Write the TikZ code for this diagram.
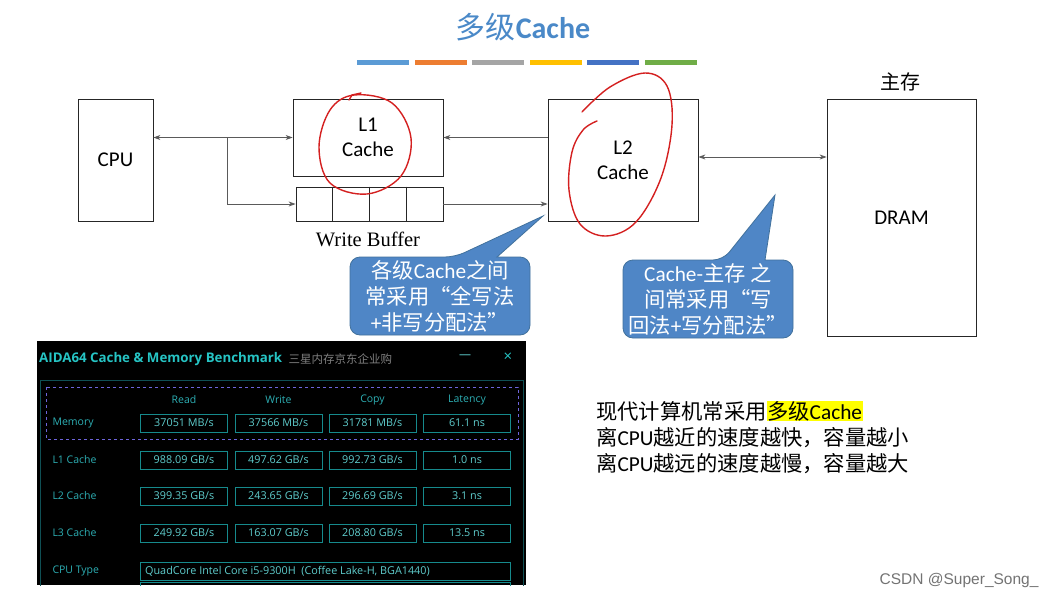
\documentclass[tikz,border=0pt]{standalone}
\usepackage{fontspec}
\setmainfont{Carlito}
\newfontfamily\cjk{Noto Sans CJK SC}
\newfontfamily\serifw{Liberation Serif}
\newfontfamily\ui{Open Sans}
\newfontfamily\wm{Liberation Sans}
\usetikzlibrary{arrows.meta,calc}
\newcommand\la[1]{{\rmfamily #1}}
\definecolor{titleblue}{RGB}{74,137,200}
\definecolor{barA}{RGB}{91,155,213}
\definecolor{barB}{RGB}{237,125,49}
\definecolor{barC}{RGB}{165,165,165}
\definecolor{barD}{RGB}{255,192,0}
\definecolor{barE}{RGB}{68,114,196}
\definecolor{barF}{RGB}{112,173,71}
\definecolor{callfill}{RGB}{79,134,198}
\definecolor{callline}{RGB}{65,113,156}
\definecolor{inkred}{RGB}{212,32,32}
\definecolor{linegray}{RGB}{90,90,90}
\definecolor{aidateal}{RGB}{38,196,196}
\definecolor{aidalabel}{RGB}{45,175,180}
\definecolor{aidaval}{RGB}{95,205,205}
\definecolor{aidabox}{RGB}{22,138,140}
\definecolor{aidaframe}{RGB}{15,80,85}
\definecolor{dashblue}{RGB}{110,100,220}
\definecolor{hl}{RGB}{255,255,0}
\tikzset{
  box/.style={draw=black!85, line width=0.8pt, fill=white, font=\fontsize{21}{25}\selectfont, align=center},
  conn/.style={draw=linegray, line width=0.8pt},
  tip/.style={-{Stealth[length=7pt,width=5pt]}},
  dtip/.style={{Stealth[length=7pt,width=5pt]}-{Stealth[length=7pt,width=5pt]}},
  ink/.style={draw=inkred, line width=1.4pt, line cap=round},
  callout/.style={fill=callfill, draw=callline, line width=0.8pt},
  calltext/.style={text=white, align=center, font=\cjk\fontsize{21.3}{26}\selectfont},
  alabel/.style={anchor=west, text=aidalabel, font=\ui\fontsize{10.5}{12}\selectfont},
  ahead/.style={text=aidalabel, font=\ui\fontsize{10.5}{12}\selectfont},
  valbox/.style={draw=aidabox, line width=0.8pt, minimum width=87pt, minimum height=18pt, inner sep=0pt, text=aidaval, font=\ui\fontsize{10.8}{12}\selectfont},
}
\begin{document}
\begin{tikzpicture}[x=1pt,y=-1pt]
\useasboundingbox (0,0) rectangle (1055,600);
\fill[white] (0,0) rectangle (1055,600);

% title and colour bars
\node[text=titleblue, font=\fontsize{30}{36}\selectfont] (title) at (523,27) {{\cjk 多级}\textbf{Cache}};
\foreach \x/\c in {357/barA,415/barB,472/barC,530/barD,587/barE,645/barF}
  \fill[\c] (\x,60) rectangle ++(52,5);

% boxes
\node[box, minimum width=75pt, minimum height=122pt] (cpu) at (115.5,160) {CPU};
\node[box, minimum width=150pt, minimum height=77pt] (l1) at (368,137.5) {L1\\Cache};
\node[box, minimum width=147pt, minimum height=34pt] (wb) at (369.5,204) {};
\foreach \f in {0.25,0.5,0.75}
  \draw[black!85, line width=0.8pt] ($(wb.north west)!\f!(wb.north east)$) -- ($(wb.south west)!\f!(wb.south east)$);
\node[font=\serifw\fontsize{20.5}{24}\selectfont] (wblabel) at (368,239) {Write Buffer};
\node[box, minimum width=150pt, minimum height=122pt] (l2) at (623,160) {L2\\Cache};
\node[box, minimum width=149pt, minimum height=237pt, text depth=0pt] (dram) at (901.5,217.5) {DRAM};
\node[font=\cjk\fontsize{20}{24}\selectfont] (mainmem) at (900,82) {主存};

% connectors
\coordinate (br) at (227,137.5);
\draw[conn, dtip] (cpu.east |- l1.west) -- (l1.west);
\draw[conn, tip] (br) |- (wb.west);
\draw[conn, tip] (l2.west |- l1.east) -- (l1.east);
\draw[conn, tip] (wb.east) -- (wb.east -| l2.west);
\draw[conn, dtip] (l2.east |- 0,157) -- (dram.west |- 0,157);

% red hand-drawn circles
\draw[ink] plot[smooth cycle, tension=0.6] coordinates {(354,95) (392,103) (411,138) (401,176) (367,194) (330,183) (319,147) (330,110)};
\draw[ink] (349,100) -- (352,95) -- (361,93);
\draw[ink] plot[smooth, tension=0.6] coordinates {(582,112) (610,87) (645,73) (667,86) (672,125) (661,178) (636,222) (606,236) (580,224) (569,190) (572,152) (583,130) (597,121)};

% callouts
\draw[callout] (440,335) [rounded corners=10pt] -- (350,335) -- (350,257) -- (455,257) [sharp corners] -- (543,216) -- (497,257) [rounded corners=10pt] -- (530,257) -- (530,335) -- cycle;
\node[calltext] (c1) at (440,296) {各级\la{Cache}之间\\常采用“全写法\\\la{+}非写分配法”};
\draw[callout] (708,338) [rounded corners=10pt] -- (623,338) -- (623,260) -- (723,260) [sharp corners] -- (775,195) -- (765,260) [rounded corners=10pt] -- (793,260) -- (793,338) -- cycle;
\node[calltext] (c2) at (708,299) {\la{Cache-}主存 之\\间常采用“写\\回法\la{+}写分配法”};

% AIDA64 screenshot
\begin{scope}
\clip (37,341) rectangle (526,585);
\fill[black] (37,341) rectangle (526,585);
\draw[aidaframe, line width=0.8pt] (40,380) rectangle (523,600);
\node[anchor=west, text=aidateal, font=\ui\bfseries\fontsize{13.3}{15}\selectfont, inner sep=0pt] (atitle) at (39,359) {AIDA64 Cache \& Memory Benchmark};
\node[anchor=west, text=black!50, font=\cjk\fontsize{11.5}{13}\selectfont, inner sep=0pt] (asub) at ($(atitle.east)+(6,0)$) {三星内存京东企业购};
\node[text=aidaval, font=\ui\fontsize{12}{14}\selectfont] (amin) at (465,357) {—};
\node[text=aidateal, font=\ui\fontsize{15}{16}\selectfont] (aclose) at (508,357) {×};
\draw[dashblue, dashed, line width=0.9pt] (46,387) rectangle (518,439);
\foreach \h/\x in {Read/184,Write/278.5,Copy/372.5,Latency/467}
  \node[ahead] (h-\h) at (\x,400) {\h};
\foreach \lab/\y/\a/\b/\c/\d in {
  Memory/423/37051 MB\slash s/37566 MB\slash s/31781 MB\slash s/61.1 ns,
  L1 Cache/460/988.09 GB\slash s/497.62 GB\slash s/992.73 GB\slash s/1.0 ns,
  L2 Cache/496/399.35 GB\slash s/243.65 GB\slash s/296.69 GB\slash s/3.1 ns,
  L3 Cache/533/249.92 GB\slash s/163.07 GB\slash s/208.80 GB\slash s/13.5 ns}{
  \node[alabel] at (49,\y) {\lab};
  \node[valbox] at (184,\y) {\a};
  \node[valbox] at (278.5,\y) {\b};
  \node[valbox] at (372.5,\y) {\c};
  \node[valbox] at (467,\y) {\d};
}
\node[alabel] (cputype) at (49,571) {CPU Type};
\node[draw=aidabox, line width=0.8pt, minimum width=370pt, minimum height=18pt, inner sep=0pt, anchor=west] (cpuval) at (140,571) {};
\node[anchor=west, text=aidaval, font=\ui\fontsize{10.8}{12}\selectfont, inner sep=0pt] (cpuvaltext) at ($(cpuval.west)+(5,0)$) {QuadCore Intel Core i5-9300H\ \ (Coffee Lake-H, BGA1440)};
\draw[aidabox, line width=0.8pt] (140,595) -- (140,582) -- (510,582) -- (510,595);
\end{scope}

% right text
\node[anchor=west, align=left, inner sep=0pt, font=\cjk\fontsize{21.3}{26}\selectfont] (note) at (596,437) {现代计算机常采用{\setlength\fboxsep{0.5pt}\colorbox{hl}{多级\la{Cache}}}\\离\la{CPU}越近的速度越快，容量越小\\离\la{CPU}越远的速度越慢，容量越大};

% watermark
\node[anchor=east, text=black!55, font=\wm\fontsize{15.5}{17}\selectfont] (wmark) at (1042,580) {CSDN @Super\_Song\_};
\end{tikzpicture}
\end{document}
